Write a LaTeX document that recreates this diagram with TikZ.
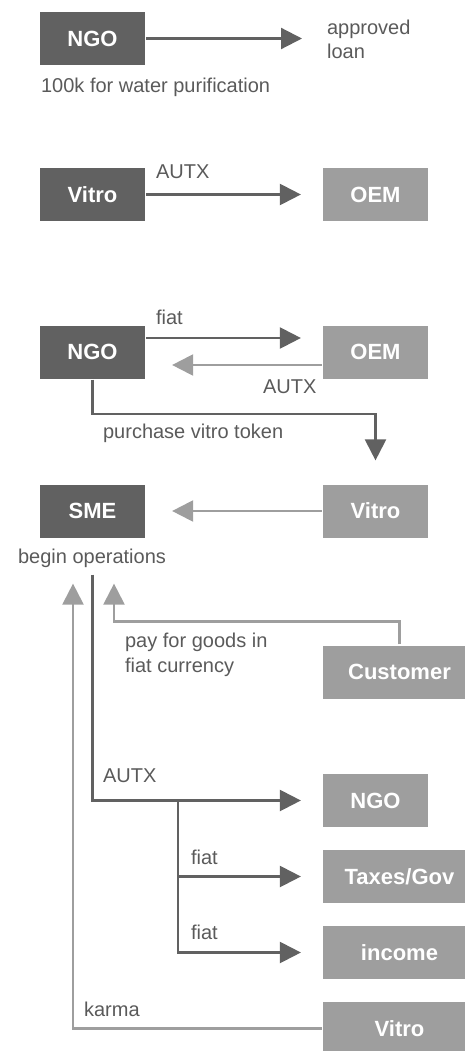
\documentclass[tikz,border=0pt]{standalone}
\usepackage{fontspec}
\setmainfont{Liberation Sans}
\usepackage{tikz}
\usetikzlibrary{arrows.meta}
\definecolor{boxdark}{HTML}{616161}
\definecolor{boxlight}{HTML}{9E9E9E}
\definecolor{textgray}{HTML}{5A5A5A}

\begin{document}
\begin{tikzpicture}[x=1pt, y=-1pt, >={Triangle[length=21pt, width=21pt]}, line width=2.2pt,
	every box/.style={minimum height=53pt, inner sep=0pt, text=white, font=\fontsize{22}{26}\selectfont\bfseries},
	box dark/.style={every box, fill=boxdark, minimum width=105pt},
	box light/.style={every box, fill=boxlight, minimum width=105pt},
	box wide/.style={every box, fill=boxlight, minimum width=153pt},
	note/.style={inner sep=0pt, anchor=west, align=left, text=textgray, font=\fontsize{20}{24.5}\selectfont},
	flow dark/.style={draw=boxdark, ->},
	flow light/.style={draw=boxlight, ->}]
		\clip (0,0) rectangle (465,1051);
		
		\foreach \m/\l/\y in {ngoA/NGO/38.5, vitroA/Vitro/194.5, ngoB/NGO/352, sme/SME/511}
		\node [box dark] (\m) at (92.5,\y) {\l};
		
		\foreach \m/\l/\y in {oemA/OEM/194.5, oemB/OEM/352, vitroB/Vitro/511, ngoC/NGO/800.5}
		\node [box light] (\m) at (375.5,\y) {\l};
		
		\foreach \m/\l/\y in {customer/Customer/672, taxes/{Taxes/Gov}/876.5, income/income/952.5, vitroC/Vitro/1028.5}
		\node [box wide] (\m) at (399.5,\y) {\l};
		
		\node [note] (loan) at (326,39.5) {approved\\loan};
		\node [note] (purpose) at (40,87) {100k for water purification};
		\node [note] (autxA) at (155,172) {AUTX};
		\node [note] (fiatA) at (155,317) {fiat};
		\node [note] (autxB) at (262,387) {AUTX};
		\node [note] (token) at (102,433) {purchase vitro token};
		\node [note, anchor=center] (ops) at (92,558) {begin operations};
		\node [note] (goods) at (124,655) {pay for goods in\\fiat currency};
		\node [note] (autxC) at (102,776) {AUTX};
		\node [note] (fiatB) at (190,857) {fiat};
		\node [note] (fiatC) at (190,932) {fiat};
		\node [note] (karma) at (83,1009) {karma};
		
		\draw [flow dark, shorten >=24pt] (ngoA.east) -- (ngoA.east -| loan.west);
		\draw [flow dark, shorten >=21pt] (vitroA) -- (oemA);
		\draw [flow dark, shorten >=21pt] ([yshift=14pt]ngoB.east) -- ([yshift=14pt]oemB.west);
		\draw [flow light, shorten >=26pt] ([yshift=-13pt]oemB.west) -- ([yshift=-13pt]ngoB.east);
		\draw [flow dark, shorten >=23pt] (ngoB.south) -- ++(0,34) -| (vitroB.north);
		\draw [flow light, shorten >=26pt] (vitroB) -- (sme);
		
		\draw [flow light, shorten >=45pt] (customer.north) -- ++(0,-23) -| ([xshift=21.5pt]sme.south);
		\draw [flow light, shorten >=45pt] (vitroC.west) -| ([xshift=-19.5pt]sme.south);
		\draw [flow dark, shorten <=36pt, shorten >=21pt] (sme.south) |- (ngoC.west);
		
		\coordinate (split) at (178,800.5);
		\foreach \m in {taxes, income}
		\draw [flow dark, shorten >=21pt] (split) |- (\m.west);
		
	\end{tikzpicture}
\end{document}
